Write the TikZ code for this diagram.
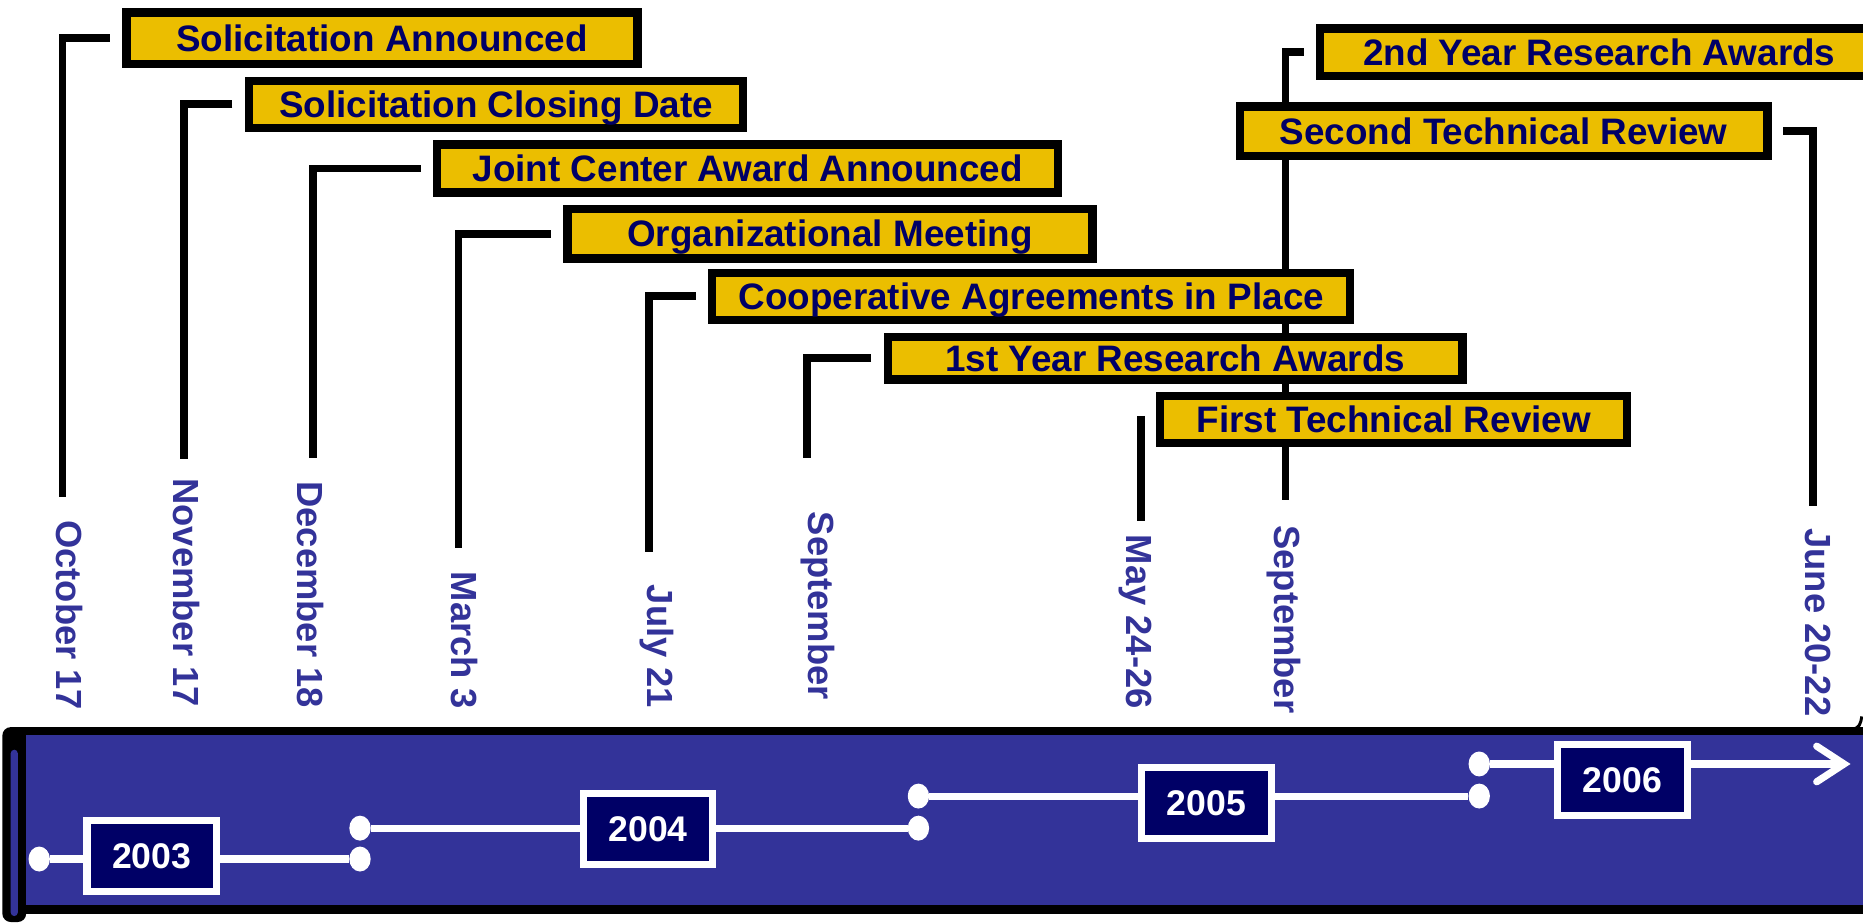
\documentclass[tikz,border=0pt]{standalone}
\usepackage{fontspec}
\setmainfont{Liberation Sans}
\usetikzlibrary{shapes.geometric}
\definecolor{gold}{RGB}{235,190,0}
\definecolor{navy}{RGB}{0,0,102}
\definecolor{slate}{RGB}{51,51,153}
\pgfdeclarelayer{back}
\pgfsetlayers{back,main}

\begin{document}
\begin{tikzpicture}[x=1pt,y=-1pt,
  event/.style={draw=black, line width=7pt, fill=gold, inner sep=0pt,
    text=navy, text height=22pt, text depth=0pt,
    font=\fontsize{31}{36}\selectfont\bfseries},
  leader/.style={draw=black, line width=6.5pt},
  datelbl/.style={rotate=-90, anchor=mid west, inner sep=0pt, text=slate,
    font=\fontsize{30.6}{36}\selectfont\bfseries},
  yearbox/.style={draw=white, line width=6pt, fill=navy, text=white,
    inner sep=0pt, minimum width=109pt, minimum height=60pt,
    text height=21pt, text depth=0pt,
    font=\fontsize{30}{36}\selectfont\bfseries},
  yearline/.style={draw=white, line width=6pt},
  knob/.style={ellipse, fill=white, inner sep=0pt,
    minimum width=18pt, minimum height=21pt},
]
\useasboundingbox (0,0) rectangle (1568,777);
\clip (0,0) rectangle (1568,777);

% ---- timeline band ----
\fill[black, rounded corners=7pt] (2,612) rectangle (22,776);
\fill[black] (10,612) rectangle (1580,769);
\fill[slate] (22,619) rectangle (1580,762);
\fill[slate, rounded corners=3pt] (9,631) rectangle (15,771);
\draw[black, line width=2.5pt] (1559,613.5) .. controls (1565,613) and (1566,609) .. (1567,603);

% ---- milestone boxes ----
\node[event, minimum width=430pt,   minimum height=43.5pt] (SA)   at (321.5,32.25)  {Solicitation Announced};
\node[event, minimum width=416pt,   minimum height=39.5pt] (SCD)  at (417.5,87.75)  {Solicitation Closing Date};
\node[event, minimum width=522.5pt, minimum height=40.5pt] (JCA)  at (629.25,141.75) {Joint Center Award Announced};
\node[event, minimum width=442pt,   minimum height=41.4pt] (OM)   at (698.5,196.8)  {Organizational Meeting};
\node[event, minimum width=537pt,   minimum height=39.7pt] (CA)   at (868,249.35)   {Cooperative Agreements in Place};
\node[event, minimum width=483.7pt, minimum height=36pt]   (YRA1) at (989,301.5)    {1st Year Research Awards};
\node[event, minimum width=393pt,   minimum height=39.8pt] (FTR)  at (1173,353.1)   {First Technical Review};
\node[event, minimum width=444pt,   minimum height=42pt]   (STR)  at (1265.5,110.5)  {Second Technical Review};
\node[event, minimum width=469.6pt, minimum height=39.8pt] (YRA2) at (1346,43.9)    {2nd Year Research Awards};

% ---- date labels ----
\node[datelbl] (dOct)  at (50,437.7)  {October 17};
\node[datelbl] (dNov)  at (149,402.5) {November 17};
\node[datelbl] (dDec)  at (253,405)   {December 18};
\node[datelbl] (dMar)  at (383,481)   {March 3};
\node[datelbl] (dJul)  at (547.5,492) {July 21};
\node[datelbl] (dSep)  at (683,430.7) {September};
\node[datelbl] (dMay)  at (951,450)   {May 24-26};
\node[datelbl] (dSepB) at (1075,442)  {September};
\node[datelbl] (dJun)  at (1522,444.5) {June 20-22};

% ---- leader line ends ----
\coordinate (eOct)  at (52.6,418);
\coordinate (eNov)  at (155,386.7);
\coordinate (eDec)  at (263.7,385.8);
\coordinate (eMar)  at (386,461);
\coordinate (eJul)  at (546,465);
\coordinate (eSep)  at (679,385.3);
\coordinate (eMay)  at (960.3,438.3);
\coordinate (eSepB) at (1082,421);
\coordinate (eJun)  at (1525.6,426);

\begin{pgfonlayer}{back}
  \draw[leader] ([xshift=-10.5pt]SA.west)   -| (eOct);
  \draw[leader] ([xshift=-10.5pt]SCD.west)  -| (eNov);
  \draw[leader] ([xshift=-10.5pt]JCA.west)  -| (eDec);
  \draw[leader] ([xshift=-10.5pt]OM.west)   -| (eMar);
  \draw[leader] ([xshift=-10.5pt]CA.west)   -| (eJul);
  \draw[leader] ([xshift=-10.5pt]YRA1.west) -| (eSep);
  \draw[leader] ([xshift=-12.7pt,yshift=3pt]FTR.west) -- (eMay);
  \draw[leader] ([xshift=-10.5pt]YRA2.west) -| (eSepB);
  \draw[leader] ([xshift=10pt]STR.east)     -| (eJun);
\end{pgfonlayer}

% ---- year track ----
\node[knob] (k1) at (33,723) {};
\node[knob] (k2) at (303,723) {};
\node[knob] (k3) at (303,697) {};
\node[knob] (k4) at (773,697) {};
\node[knob] (k5) at (773,670) {};
\node[knob] (k6) at (1245,670) {};
\node[knob] (k7) at (1245,643) {};
\coordinate (tip) at (1552,643);

\draw[yearline] (k1) -- (k2);
\draw[yearline] (k3) -- (k4);
\draw[yearline] (k5) -- (k6);
\draw[yearline] (k7) -- (tip);
\draw[yearline, line cap=round, line join=miter]
  ([xshift=-23pt,yshift=15pt]tip) -- (tip) -- ([xshift=-23pt,yshift=-15pt]tip);

\node[yearbox] (y2003) at (127.75,720.5) {2003};
\node[yearbox] (y2004) at (545.5,697.5)  {2004};
\node[yearbox] (y2005) at (1015.5,676)   {2005};
\node[yearbox] (y2006) at (1365.5,656.5) {2006};
\end{tikzpicture}
\end{document}
